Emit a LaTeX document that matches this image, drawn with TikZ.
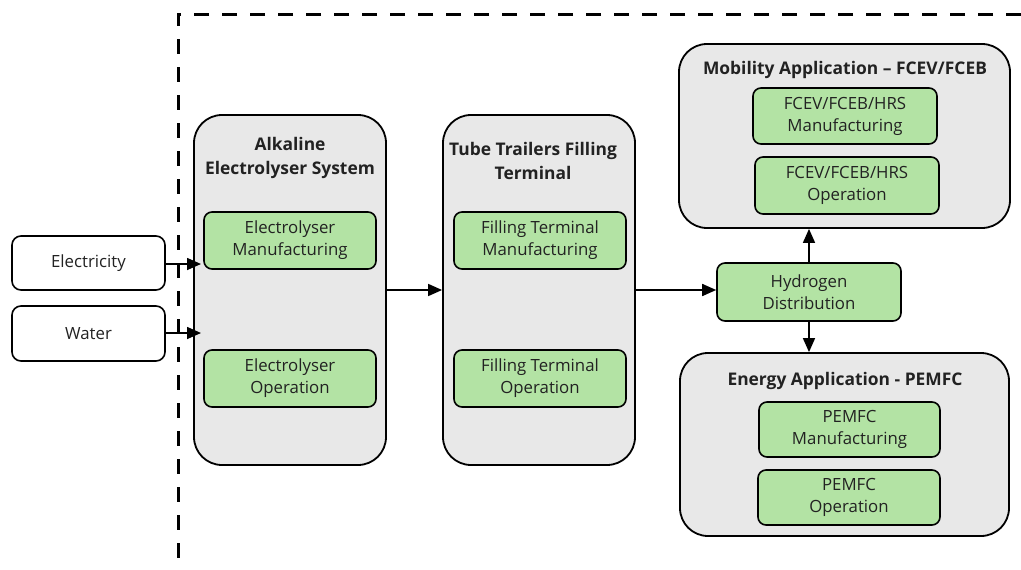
\documentclass[tikz,border=0pt]{standalone}
\usepackage{fontspec}
\setmainfont{Open Sans}
\usetikzlibrary{arrows.meta,calc}
\definecolor{panelgray}{HTML}{E8E8E8}
\definecolor{stagegreen}{HTML}{B3E3A4}
\definecolor{inkgray}{HTML}{222222}
\tikzset{
  panel/.style={draw=black, line width=1.8pt, fill=panelgray, rounded corners=28pt},
  stagebox/.style={draw=black, line width=1.6pt, fill=stagegreen, rounded corners=8pt,
    align=center, text=inkgray, font=\fontsize{16.8}{22}\selectfont, inner sep=0pt},
  inputbox/.style={draw=black, line width=1.6pt, fill=white, rounded corners=9pt,
    align=center, text=inkgray, font=\fontsize{16.8}{22}\selectfont, inner sep=0pt},
  paneltitle/.style={align=center, text=inkgray, font=\bfseries\fontsize{17.4}{24}\selectfont, inner sep=0pt},
  flow/.style={line width=1.6pt, -{Triangle[length=14pt,width=12pt]}},
  boundary/.style={line width=3pt, dash pattern=on 15pt off 13pt}
}
\begin{document}
\begin{tikzpicture}[x=1pt,y=-1pt]
\useasboundingbox (0,0) rectangle (1021,570);

% system boundary
\draw[boundary] (1021,14) -- (178,14) -- (178,575);

% inputs
\node[inputbox, minimum width=153pt, minimum height=54pt] (elec) at (88.5,263) {Electricity};
\node[inputbox, minimum width=153pt, minimum height=55pt] (water) at (88.5,333.5) {Water};

% electrolyser panel
\node[panel, minimum width=192pt, minimum height=350pt] (alk) at (290,290) {};
\node[paneltitle] (alkt) at (290,158) {Alkaline\\Electrolyser System};
\node[stagebox, minimum width=172pt, minimum height=57pt] (elman) at (290,240.5) {Electrolyser\\Manufacturing};
\node[stagebox, minimum width=172pt, minimum height=57pt] (elop) at (290,378.5) {Electrolyser\\Operation};

% filling terminal panel
\node[panel, minimum width=192pt, minimum height=350pt] (tube) at (539,290) {};
\node[paneltitle] (tubet) at (533,160.5) {Tube Trailers Filling\\Terminal};
\node[stagebox, minimum width=172pt, minimum height=57pt] (fillman) at (540,240.5) {Filling Terminal\\Manufacturing};
\node[stagebox, minimum width=172pt, minimum height=57pt] (fillop) at (540,378.5) {Filling Terminal\\Operation};

% distribution
\node[stagebox, minimum width=184pt, minimum height=58pt] (hyd) at (809,292) {Hydrogen\\Distribution};

% mobility panel
\node[panel, minimum width=331pt, minimum height=184pt] (mob) at (844.5,136) {};
\node[paneltitle] (mobt) at (845,70) {Mobility Application – FCEV/FCEB};
\node[stagebox, minimum width=184pt, minimum height=56pt] (mobman) at (845,116) {FCEV/FCEB/HRS\\Manufacturing};
\node[stagebox, minimum width=184pt, minimum height=57pt] (mobop) at (847,185.5) {FCEV/FCEB/HRS\\Operation};

% energy panel
\node[panel, minimum width=329pt, minimum height=183pt] (ene) at (844.5,444.5) {};
\node[paneltitle] (enet) at (845,381) {Energy Application - PEMFC};
\node[stagebox, minimum width=181pt, minimum height=55pt] (pemman) at (849.5,429.5) {PEMFC\\Manufacturing};
\node[stagebox, minimum width=182pt, minimum height=55pt] (pemop) at (849,497.5) {PEMFC\\Operation};

% connectors
\coordinate (elecin) at (201,264);
\coordinate (waterin) at (201,333);
\draw[flow] (elec.east |- elecin) -- (elecin);
\draw[flow] (water.east |- waterin) -- (waterin);
\draw[flow] (alk.east) -- (tube.west);
\draw[flow] (tube.east) -- (hyd.west |- tube.east);
\draw[flow] (hyd.north) -- (hyd.north |- mob.south);
\draw[flow] (hyd.south) -- (hyd.south |- ene.north);
\end{tikzpicture}
\end{document}
